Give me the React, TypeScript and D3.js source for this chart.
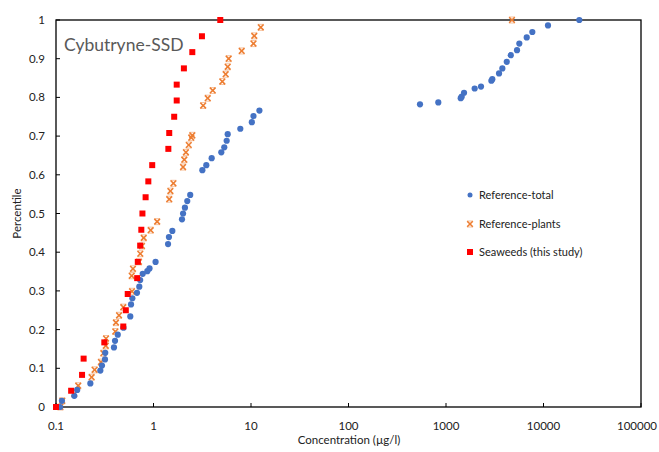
import React from "react";
import * as d3 from "d3";

const seaweedConc = [0.1, 0.143, 0.185, 0.192, 0.313, 0.49, 0.52, 0.544, 0.68, 0.69, 0.73, 0.75, 0.77, 0.83, 0.885, 0.97, 1.42, 1.45, 1.63, 1.73, 1.73, 2.05, 2.5, 3.14, 4.84];
const seaweedPct = [0, 0.042, 0.083, 0.125, 0.167, 0.208, 0.25, 0.292, 0.333, 0.375, 0.417, 0.458, 0.5, 0.542, 0.583, 0.625, 0.667, 0.708, 0.75, 0.792, 0.833, 0.875, 0.917, 0.958, 1.0];

const plantsConc = [0.111, 0.116, 0.154, 0.169, 0.232, 0.249, 0.289, 0.306, 0.324, 0.326, 0.406, 0.412, 0.443, 0.49, 0.602, 0.598, 0.616, 0.71, 0.732, 0.762, 0.794, 0.936, 1.09, 1.45, 1.49, 1.6, 2.01, 2.07, 2.15, 2.3, 2.44, 2.5, 3.23, 3.6, 4.05, 5.08, 5.5, 5.77, 5.9, 8.03, 10.6, 10.8, 12.6, 4750];
const plantsPct = [0, 0.016, 0.034, 0.055, 0.077, 0.096, 0.116, 0.139, 0.158, 0.177, 0.195, 0.218, 0.237, 0.258, 0.299, 0.339, 0.357, 0.375, 0.396, 0.416, 0.437, 0.457, 0.479, 0.537, 0.558, 0.578, 0.62, 0.639, 0.658, 0.677, 0.696, 0.702, 0.779, 0.798, 0.818, 0.841, 0.86, 0.879, 0.9, 0.92, 0.939, 0.959, 0.981, 1.0];

const totalConc = [0.11, 0.115, 0.154, 0.165, 0.225, 0.285, 0.296, 0.318, 0.32, 0.393, 0.403, 0.43, 0.492, 0.578, 0.588, 0.607, 0.677, 0.715, 0.73, 0.775, 0.864, 0.91, 1.05, 1.41, 1.44, 1.56, 1.96, 2.01, 2.1, 2.22, 2.38, 3.17, 3.48, 3.95, 4.96, 5.32, 5.63, 5.77, 7.77, 10.2, 10.6, 12.2, 541, 834, 1416, 1449, 1531, 1968, 2286, 2920, 2985, 3500, 3785, 4200, 4616, 5350, 5650, 6730, 7680, 11120, 23300];
const totalPct = [0, 0.016, 0.029, 0.044, 0.061, 0.094, 0.107, 0.123, 0.14, 0.154, 0.171, 0.187, 0.205, 0.234, 0.265, 0.281, 0.295, 0.311, 0.328, 0.344, 0.351, 0.358, 0.375, 0.421, 0.439, 0.455, 0.485, 0.5, 0.515, 0.532, 0.548, 0.612, 0.625, 0.643, 0.658, 0.671, 0.688, 0.705, 0.719, 0.736, 0.752, 0.766, 0.782, 0.787, 0.798, 0.802, 0.812, 0.823, 0.828, 0.843, 0.847, 0.862, 0.875, 0.892, 0.909, 0.922, 0.939, 0.955, 0.969, 0.986, 1.0];

const xTicks = [0.1, 1, 10, 100, 1000, 10000, 100000];
const xTickLabels = ["0.1", "1", "10", "100", "1000", "10000", "100000"];
const yTicks = [0, 0.1, 0.2, 0.3, 0.4, 0.5, 0.6, 0.7, 0.8, 0.9, 1];
const yTickLabels = ["0", "0.1", "0.2", "0.3", "0.4", "0.5", "0.6", "0.7", "0.8", "0.9", "1"];
const legendLabels = ["Reference-total", "Reference-plants", "Seaweeds (this study)"];

const FONT = "Lato, 'Open Sans', sans-serif";
const BLUE = "#4472C4";
const ORANGE = "#ED7D31";
const RED = "#FF0000";

export default function App() {
  const L = 56, R = 641, T = 20, B = 407;
  const x = d3.scaleLog().domain([0.1, 100000]).range([L, R]);
  const y = d3.scaleLinear().domain([0, 1]).range([B, T]);

  const xMark = (cx: number, cy: number, k: string) => (
    <g key={k} stroke={ORANGE} strokeWidth={1.6}>
      <line x1={cx - 2.8} y1={cy - 2.8} x2={cx + 2.8} y2={cy + 2.8} />
      <line x1={cx - 2.8} y1={cy + 2.8} x2={cx + 2.8} y2={cy - 2.8} />
      <line x1={cx - 3} y1={cy - 3} x2={cx + 3} y2={cy - 3} strokeWidth={0.8} opacity={0.6} />
      <line x1={cx - 3} y1={cy + 3} x2={cx + 3} y2={cy + 3} strokeWidth={0.8} opacity={0.6} />
    </g>
  );

  return (
    <svg width={659} height={452} style={{ position: "absolute", left: 0, top: 0, background: "#fff" }} fontFamily={FONT}>
      <rect x={0} y={0} width={659} height={452} fill="#fff" />
      <rect x={L} y={T} width={R - L} height={B - T} fill="none" stroke="#000" strokeWidth={1.3} />
      {yTicks.map((t, i) => (
        <g key={"yt" + i}>
          <line x1={L} x2={L + 4} y1={y(t)} y2={y(t)} stroke="#000" strokeWidth={1} />
          <text x={45} y={y(t)} dy="0.35em" textAnchor="end" fontSize={11.5} fill="#222">{yTickLabels[i]}</text>
        </g>
      ))}
      {xTicks.map((t, i) => {
        const last = i === xTicks.length - 1;
        return (
          <g key={"xt" + i}>
            <line x1={x(t)} x2={x(t)} y1={B} y2={B - 4} stroke="#000" strokeWidth={1} />
            <text x={last ? 657 : x(t)} y={430} textAnchor={last ? "end" : "middle"} fontSize={11.5} fill="#222">{xTickLabels[i]}</text>
          </g>
        );
      })}
      <text x={349} y={444} textAnchor="middle" fontSize={11.5} fill="#222">Concentration  (µg/l)</text>
      <text transform={`translate(21,${(T + B) / 2}) rotate(-90)`} textAnchor="middle" fontSize={11.5} fill="#222">Percentile</text>
      <text x={64} y={51} fontSize={17.5} fill="#595959">Cybutryne-SSD</text>

      {plantsConc.map((c, i) => xMark(x(c), y(plantsPct[i]), "p" + i))}
      {totalConc.map((c, i) => (
        <circle key={"t" + i} cx={x(c)} cy={y(totalPct[i])} r={3.1} fill={BLUE} />
      ))}
      {seaweedConc.map((c, i) => (
        <rect key={"s" + i} x={x(c) - 3} y={y(seaweedPct[i]) - 3} width={6} height={6} fill={RED} />
      ))}

      <g>
        <circle cx={470} cy={195} r={2.5} fill={BLUE} />
        <text x={479} y={195} dy="0.35em" fontSize={11} fill="#222">{legendLabels[0]}</text>
        {xMark(470, 224, "lg")}
        <text x={479} y={224} dy="0.35em" fontSize={11} fill="#222">{legendLabels[1]}</text>
        <rect x={467} y={249} width={6} height={6} fill={RED} />
        <text x={479} y={252} dy="0.35em" fontSize={11} fill="#222">{legendLabels[2]}</text>
      </g>
    </svg>
  );
}
